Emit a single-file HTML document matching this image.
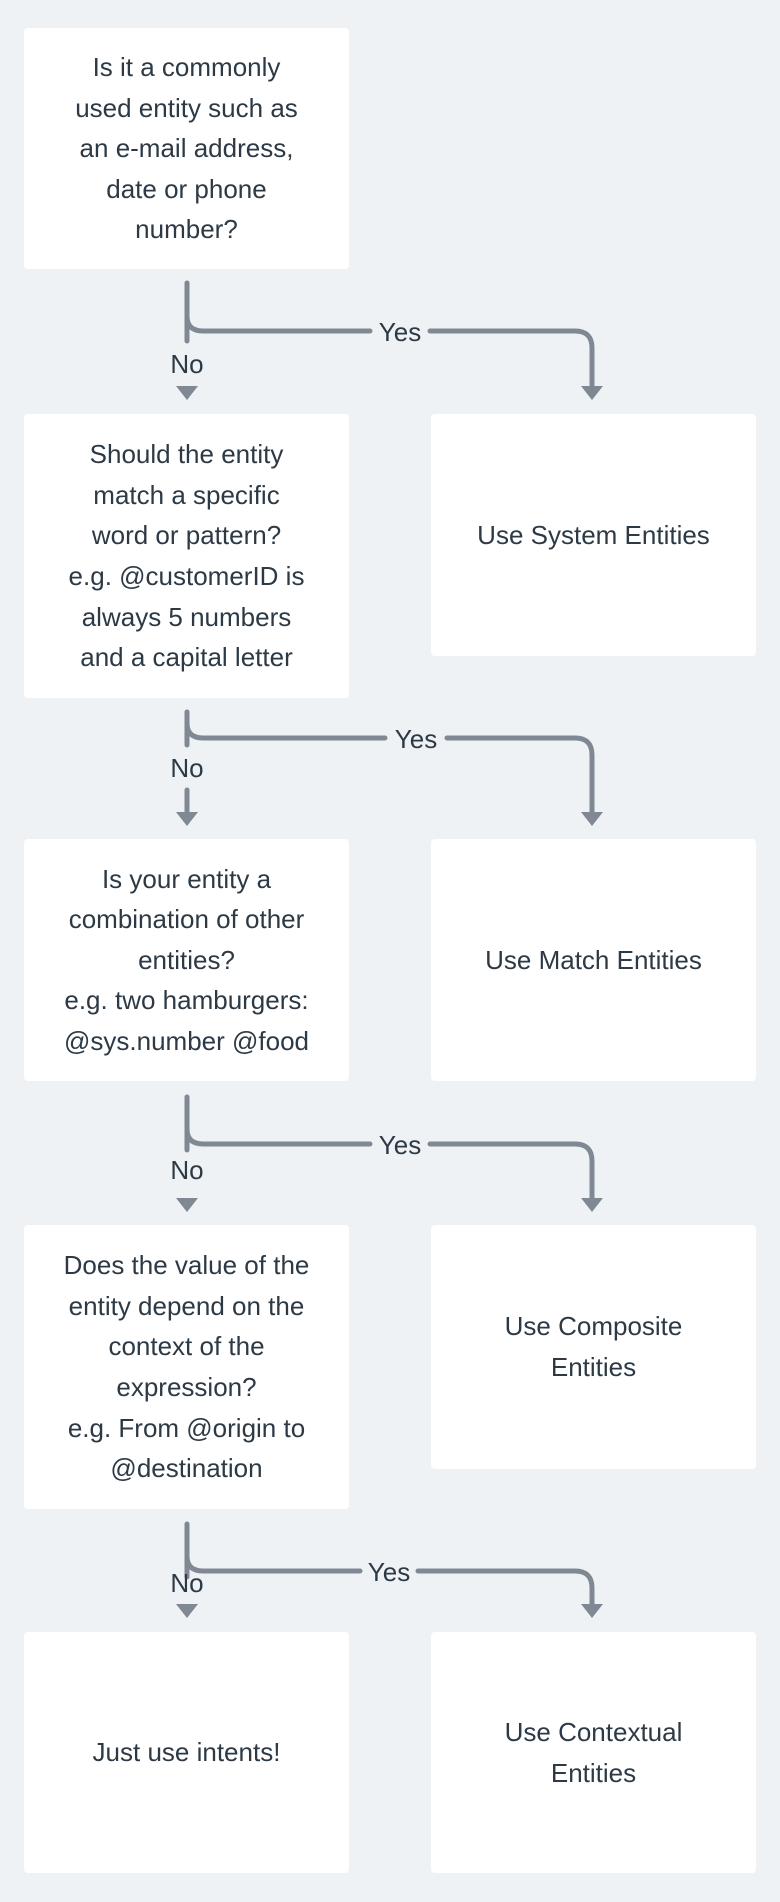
<!DOCTYPE html>
<html><head><meta charset="utf-8"><style>
body{margin:0;width:780px;height:1902px;background:#eef2f5;position:relative;overflow:hidden;font-family:"Liberation Sans",sans-serif;color:#2d3a45}
.b{position:absolute;background:#fff;border-radius:4px;display:flex;align-items:center;justify-content:center;text-align:center;font-size:26px;line-height:40.6px;box-sizing:border-box;padding:0 12px}
.l{left:24px;width:325px}.r{left:431px;width:325px}
svg{position:absolute;left:0;top:0}
svg text{font-family:"Liberation Sans",sans-serif;font-size:26px;fill:#2d3a45;text-anchor:middle}
</style></head><body>
<div class="b l" style="top:28px;height:241px">Is it a commonly<br>used entity such as<br>an e-mail address,<br>date or phone<br>number?</div>
<div class="b l" style="top:414px;height:284px">Should the entity<br>match a specific<br>word or pattern?<br>e.g. @customerID is<br>always 5 numbers<br>and a capital letter</div>
<div class="b r" style="top:414px;height:242px">Use System Entities</div>
<div class="b l" style="top:839px;height:242px">Is your entity a<br>combination of other<br>entities?<br>e.g. two hamburgers:<br>@sys.number @food</div>
<div class="b r" style="top:839px;height:242px">Use Match Entities</div>
<div class="b l" style="top:1225px;height:284px">Does the value of the<br>entity depend on the<br>context of the<br>expression?<br>e.g. From @origin to<br>@destination</div>
<div class="b r" style="top:1225px;height:244px">Use Composite<br>Entities</div>
<div class="b l" style="top:1632px;height:241px">Just use intents!</div>
<div class="b r" style="top:1632px;height:241px">Use Contextual<br>Entities</div>
<svg width="780" height="1902" fill="none" stroke="#7f8893" stroke-width="5" stroke-linecap="round">
<g>
<path d="M187 283V341"/><path d="M187 316Q187 331 203 331H370"/><path d="M430 331H575Q592 331 592 348V390"/>
<path d="M581 386H603L592 400Z" fill="#7f8893" stroke="none"/><path d="M176 386H198L187 400Z" fill="#7f8893" stroke="none"/>
<text x="400" y="341" stroke="none">Yes</text><text x="187" y="373" stroke="none">No</text>
</g>
<g>
<path d="M187 712V745"/><path d="M187 723Q187 738 203 738H385"/><path d="M447 738H575Q592 738 592 755V815"/>
<path d="M187 790V815"/>
<path d="M581 812H603L592 826Z" fill="#7f8893" stroke="none"/><path d="M176 812H198L187 826Z" fill="#7f8893" stroke="none"/>
<text x="416" y="748" stroke="none">Yes</text><text x="187" y="777" stroke="none">No</text>
</g>
<g>
<path d="M187 1097V1150"/><path d="M187 1129Q187 1144 203 1144H370"/><path d="M430 1144H575Q592 1144 592 1161V1200"/>
<path d="M581 1198H603L592 1212Z" fill="#7f8893" stroke="none"/><path d="M176 1198H198L187 1212Z" fill="#7f8893" stroke="none"/>
<text x="400" y="1154" stroke="none">Yes</text><text x="187" y="1179" stroke="none">No</text>
</g>
<g>
<path d="M187 1524V1577"/><path d="M187 1556Q187 1571 203 1571H360"/><path d="M418 1571H575Q592 1571 592 1588V1606"/>
<path d="M581 1604H603L592 1618Z" fill="#7f8893" stroke="none"/><path d="M176 1604H198L187 1618Z" fill="#7f8893" stroke="none"/>
<text x="389" y="1581" stroke="none">Yes</text><text x="187" y="1592" stroke="none">No</text>
</g>
</svg>
</body></html>
